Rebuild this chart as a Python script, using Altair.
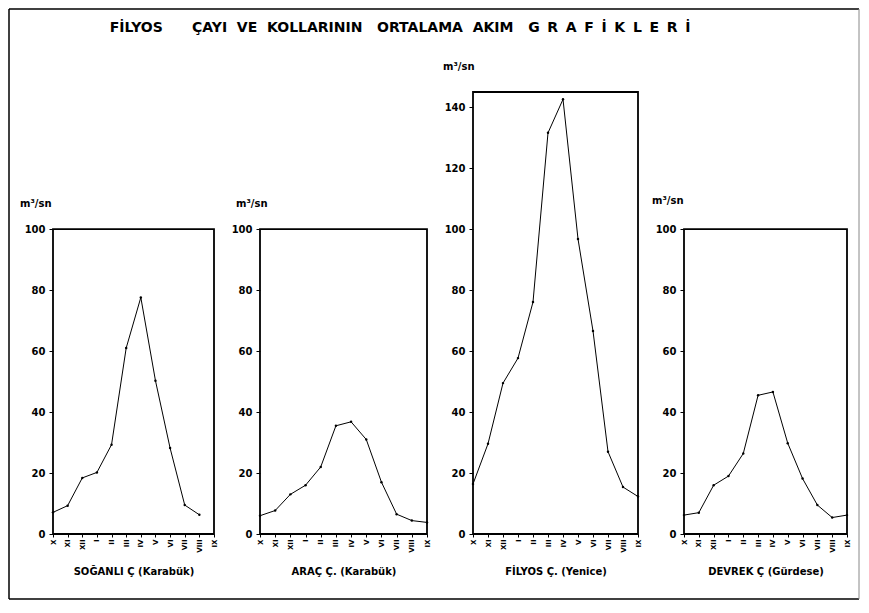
import altair as alt
import pandas as pd

months = ["X", "XI", "XII", "I", "II", "III", "IV", "V", "VI", "VII", "VIII", "IX"]

soganli = [7.1, 9.3, 18.4, 20.2, 29.3, 61.0, 77.6, 50.3, 28.2, 9.5, 6.3]
arac = [6.0, 7.7, 13.0, 16.0, 22.0, 35.5, 36.8, 31.0, 17.0, 6.5, 4.4, 3.8]
filyos = [16.4, 29.6, 49.5, 57.7, 76.1, 131.6, 142.6, 96.8, 66.6, 27.0, 15.4, 12.3]
devrek = [6.2, 7.0, 16.0, 19.0, 26.4, 45.5, 46.6, 29.8, 18.2, 9.5, 5.4, 6.2]

names = ["SOĞANLI Ç (Karabük)", "ARAÇ Ç. (Karabük)", "FİLYOS Ç. (Yenice)", "DEVREK Ç (Gürdese)"]
NB = "\u00a0"
TH = "\u2009"
title_words = ["FİLYOS", "ÇAYI", "VE", "KOLLARININ", "ORTALAMA", "AKIM", (NB + TH).join("GRAFİKLERİ")]
title_gaps = [6, 2, 2, 3, 2, 3]
title_text = title_words[0] + "".join(NB * g + w for g, w in zip(title_gaps, title_words[1:]))
unit = "m³/sn"

FONT = "DejaVu Sans"
label_expr = "[" + ",".join("'%s'" % m for m in months) + "][datum.value]"


def panel(values, name, tick_max, frame_top, width, unit_dx, unit_dy, extra=None):
    df = pd.DataFrame({"idx": list(range(len(values))), "value": values})
    xenc = alt.X(
        "idx:Q",
        scale=alt.Scale(domain=[0, 11], nice=False, zero=False),
        axis=alt.Axis(
            values=list(range(12)), labelExpr=label_expr, labelAngle=-90,
            labelFontSize=7, labelFont=FONT, labelFontWeight="bold",
            labelOverlap=False, labelFlush=False, domain=False, grid=False,
            tickSize=3, tickColor="black", labelColor="black", labelPadding=2,
            title=name, titleFont=FONT, titleFontSize=10, titleFontWeight="bold",
            titlePadding=14, titleColor="black",
        ),
    )
    yenc = alt.Y(
        "value:Q",
        scale=alt.Scale(domain=[0, 145], nice=False, zero=True),
        axis=alt.Axis(
            values=list(range(0, tick_max + 1, 20)), domain=False, grid=False,
            tickSize=4, tickColor="black", labelColor="black", labelFont=FONT,
            labelFontSize=10, labelFontWeight="bold", labelPadding=4, title=None,
        ),
    )
    frame_df = pd.DataFrame({"idx": [0], "idx2": [11], "value": [0], "value2": [frame_top]})
    frame = alt.Chart(frame_df).mark_rect(fillOpacity=0, stroke="black", strokeWidth=1.8).encode(
        x=xenc, x2="idx2", y=yenc, y2="value2"
    )
    line = alt.Chart(df).mark_line(color="black", strokeWidth=1).encode(x=xenc, y=yenc)
    pts = alt.Chart(df).mark_circle(color="black", size=6, opacity=1).encode(x=xenc, y=yenc)
    utext = alt.Chart(pd.DataFrame({"t": [unit]})).mark_text(
        align="left", baseline="middle", font=FONT, fontSize=10, fontWeight="bold", color="black"
    ).encode(x=alt.value(unit_dx), y=alt.value(unit_dy), text="t:N")
    layers = [frame, line, pts, utext]
    if extra:
        layers += extra
    return alt.layer(*layers).properties(width=width, height=442)


one = pd.DataFrame({"t": [title_text]})
title_mark = alt.Chart(one).mark_text(
    align="center", baseline="middle", font=FONT, fontSize=14, fontWeight="bold", color="black"
).encode(x=alt.value(347), y=alt.value(-64), text="t:N")

L, T, R, B = -44, -83, 806, 507
border = [
    alt.Chart(one).mark_rule(color="black", strokeWidth=1.5).encode(x=alt.value(L), y=alt.value(T), y2=alt.value(B)),
    alt.Chart(one).mark_rule(color="black", strokeWidth=1.5).encode(x=alt.value(L), x2=alt.value(R), y=alt.value(T)),
    alt.Chart(one).mark_rule(color="black", strokeWidth=1.5).encode(x=alt.value(L), x2=alt.value(R), y=alt.value(B)),
    alt.Chart(one).mark_rule(color="#888888", strokeWidth=1).encode(x=alt.value(R), y=alt.value(T), y2=alt.value(B)),
    title_mark,
]

p1 = panel(soganli, names[0], 100, 100, 161, -33, 112, extra=border)
p2 = panel(arac, names[1], 100, 100, 167, -24, 112)
p3 = panel(filyos, names[2], 140, 145, 165, -30, -25)
p4 = panel(devrek, names[3], 100, 100, 163, -32, 109)

chart = alt.hconcat(p1, p2, p3, p4, spacing=46, bounds="flush").properties(
    padding=0, background="white"
).configure_view(stroke=None)

chart.save("out.html", embed_options={"renderer": "svg", "actions": False})
